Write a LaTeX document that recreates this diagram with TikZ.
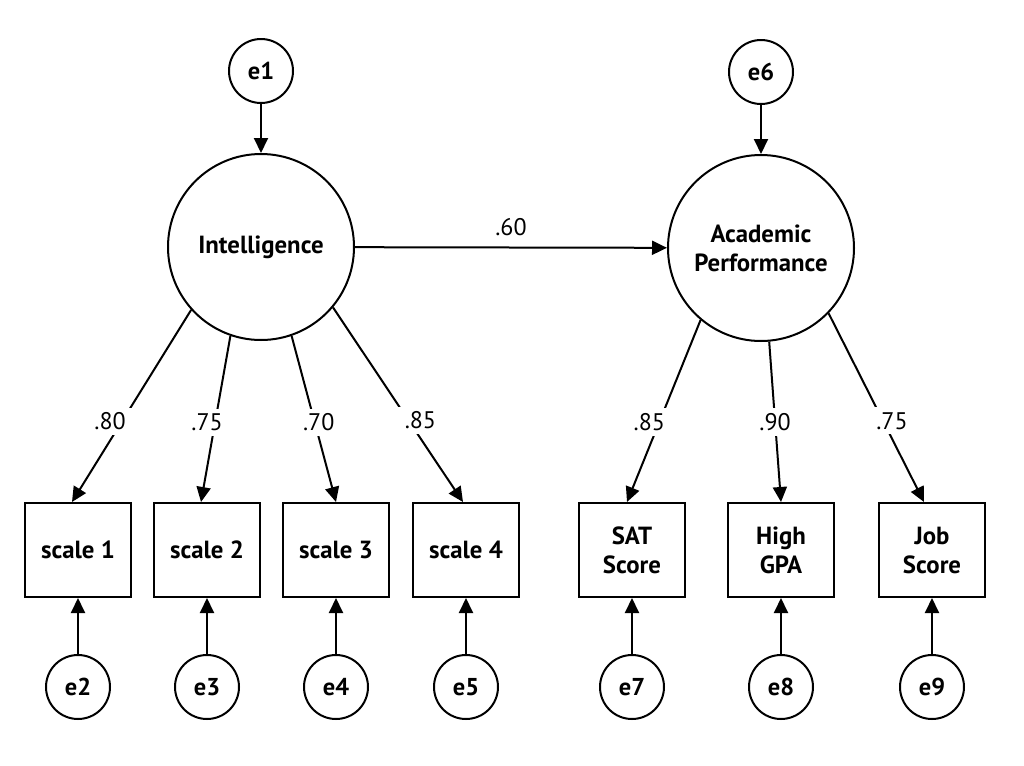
\documentclass[tikz,border=0pt]{standalone}
\usepackage{fontspec}
\setmainfont{PT Sans}
\usetikzlibrary{positioning,arrows.meta}
\tikzset{
  latent/.style={circle, draw, line width=1pt, minimum size=93pt, inner sep=0pt,
                 align=center, font=\bfseries\fontsize{12.4}{14.5}\selectfont},
  err/.style={circle, draw, line width=1pt, minimum size=32pt, inner sep=0pt,
              font=\bfseries\fontsize{12.2}{14}\selectfont},
  obs/.style={rectangle, draw, line width=1pt, minimum width=53pt, minimum height=47pt,
              inner sep=0pt, align=center, font=\bfseries\fontsize{12.4}{14.5}\selectfont},
  link/.style={-{Triangle[length=7.5pt,width=7pt]}, line width=1pt},
  load/.style={fill=white, inner xsep=5pt, inner ysep=2.5pt, font=\fontsize{12}{14}\selectfont}
}
\begin{document}
\begin{tikzpicture}[x=0.5pt, y=-0.5pt, node distance=24.5pt]
\useasboundingbox (0,0) rectangle (1024,766);
\node[latent] (int) at (261,247) {Intelligence};
\node[latent] (ap) at (761,248) {Academic\\Performance};
\node[err, above=of int] (e1) {e1};
\node[err, above=of ap] (e6) {e6};
\node[obs] (s1) at (78,550) {scale 1};
\node[obs, right=10.5pt of s1] (s2) {scale 2};
\node[obs, right=10.5pt of s2] (s3) {scale 3};
\node[obs, right=11pt of s3] (s4) {scale 4};
\node[obs] (sat) at (632,550) {SAT\\Score};
\node[obs, right=20.5pt of sat] (gpa) {High\\GPA};
\node[obs, right=21.5pt of gpa] (job) {Job\\Score};
\node[err, below=28pt of s1] (e2) {e2};
\node[err, below=28pt of s2] (e3) {e3};
\node[err, below=28pt of s3] (e4) {e4};
\node[err, below=28pt of s4] (e5) {e5};
\node[err, below=28pt of sat] (e7) {e7};
\node[err, below=28pt of gpa] (e8) {e8};
\node[err, below=28pt of job] (e9) {e9};
% structural path
\draw[link] (int) -- node[above=2pt, font=\fontsize{12}{14}\selectfont] {.60} (ap);
\draw[link] (e1) -- (int); \draw[link] (e6) -- (ap);
% loadings
\draw[link] (int.222) -- node[load, pos=0.58, xshift=-6pt] {.80} ([xshift=-3pt]s1.north);
\draw[link] (int.251) -- node[load, pos=0.52, xshift=-4pt] {.75} ([xshift=-3pt]s2.north);
\draw[link] (int.289) -- node[load, pos=0.52, xshift=2pt] {.70} (s3.north);
\draw[link] (int.320) -- node[load, pos=0.58, xshift=6pt] {.85} ([xshift=-1.5pt]s4.north);
\draw[link] (ap.230) -- node[load, pos=0.56, xshift=-5pt] {.85} ([xshift=-2.5pt]sat.north);
\draw[link] (ap.275) -- node[load, pos=0.50] {.90} (gpa.north);
\draw[link] (ap.316) -- node[load, pos=0.57, xshift=4.5pt] {.75} ([xshift=-4pt]job.north);
% errors
\draw[link] (e2) -- (s1); \draw[link] (e3) -- (s2); \draw[link] (e4) -- (s3);
\draw[link] (e5) -- (s4); \draw[link] (e7) -- (sat); \draw[link] (e8) -- (gpa);
\draw[link] (e9) -- (job);
\end{tikzpicture}
\end{document}
